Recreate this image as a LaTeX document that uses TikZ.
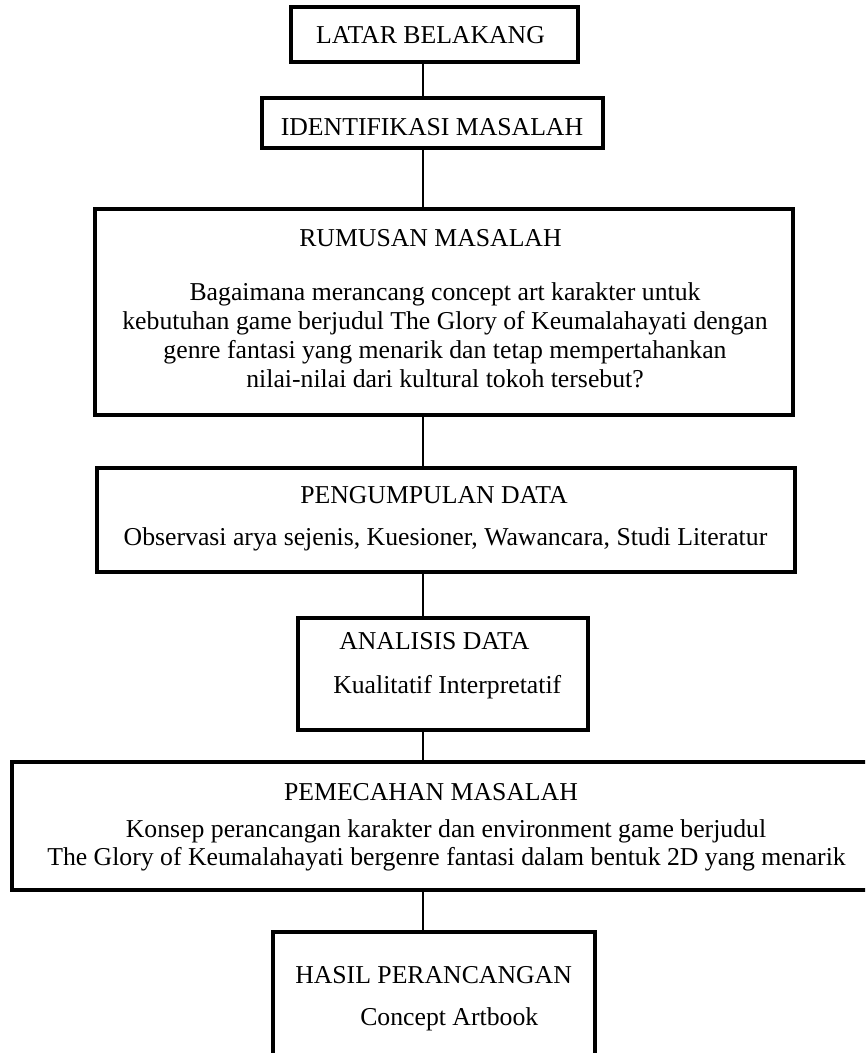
\documentclass[tikz,border=0pt]{standalone}
\usepackage{fontspec}
\setmainfont{Liberation Serif}
\tikzset{box/.style={draw, line width=3pt, inner sep=0pt}, link/.style={line width=1.5pt}, txt/.style={anchor=base, inner sep=0pt}, txtl/.style={anchor=base west, inner sep=0pt}}

\begin{document}
\begin{tikzpicture}[x=0.75pt, y=-0.75pt, font=\fontsize{19.3}{23}\selectfont]
  \useasboundingbox (0,0) rectangle (865,1053); \clip (0,0) rectangle (865,1053);
  \coordinate (spine) at (423,0);
  % kotak-kotak
  \node[box, minimum width=287*0.75pt, minimum height=55*0.75pt] (latar) at (434.5,34.5) {};
  \node[box, minimum width=341*0.75pt, minimum height=50*0.75pt] (identifikasi) at (432.5,123) {};
  \node[box, minimum width=698*0.75pt, minimum height=206*0.75pt] (rumusan) at (444,312) {};
  \node[box, minimum width=698*0.75pt, minimum height=104*0.75pt] (pengumpulan) at (446,520) {};
  \node[box, minimum width=290*0.75pt, minimum height=112*0.75pt] (analisis) at (443,674) {};
  \node[box, minimum width=868*0.75pt, minimum height=128*0.75pt] (pemecahan) at (446,826) {};
  \node[box, minimum width=322*0.75pt, minimum height=148*0.75pt] (hasil) at (434,1006) {};
  % teks
  \node[txt] (tlatar) at (430.5,43) {LATAR BELAKANG};
  \node[txt] (tidentifikasi) at (432,135) {IDENTIFIKASI MASALAH};
  \node[txt] (trumusan) at (430.5,246) {RUMUSAN MASALAH};
  \node[txt] (rum1) at (445,300) {Bagaimana merancang concept art karakter untuk};
  \node[txt] (rum2) at (445,329) {kebutuhan game berjudul The Glory of Keumalahayati dengan};
  \node[txt] (rum3) at (445,358) {genre fantasi yang menarik dan tetap mempertahankan};
  \node[txt] (rum4) at (445,387) {nilai-nilai dari kultural tokoh tersebut?};
  \node[txt] (tpengumpulan) at (434,503) {PENGUMPULAN DATA};
  \node[txt] (peng1) at (445.5,545) {Observasi arya sejenis, Kuesioner, Wawancara, Studi Literatur};
  \node[txtl] (tanalisis) at (339,649) {ANALISIS DATA};
  \node[txtl] (ana1) at (333,693) {Kualitatif Interpretatif};
  \node[txt] (tpemecahan) at (431,800) {PEMECAHAN MASALAH};
  \node[txt] (pem1) at (446,837) {Konsep perancangan karakter dan environment game berjudul};
  \node[txt] (pem2) at (446.5,865) {The Glory of Keumalahayati bergenre fantasi dalam bentuk 2D yang menarik};
  \node[txtl] (thasil) at (295,983) {HASIL PERANCANGAN};
  \node[txtl] (has1) at (360,1025) {Concept Artbook};
  % garis penghubung
  \draw[link] (latar.south -| spine) -- (identifikasi.north -| spine);
  \draw[link] (identifikasi.south -| spine) -- (rumusan.north -| spine);
  \draw[link] (rumusan.south -| spine) -- (pengumpulan.north -| spine);
  \draw[link] (pengumpulan.south -| spine) -- (analisis.north -| spine);
  \draw[link] (analisis.south -| spine) -- (pemecahan.north -| spine);
  \draw[link] (pemecahan.south -| spine) -- (hasil.north -| spine);
\end{tikzpicture}
\end{document}
